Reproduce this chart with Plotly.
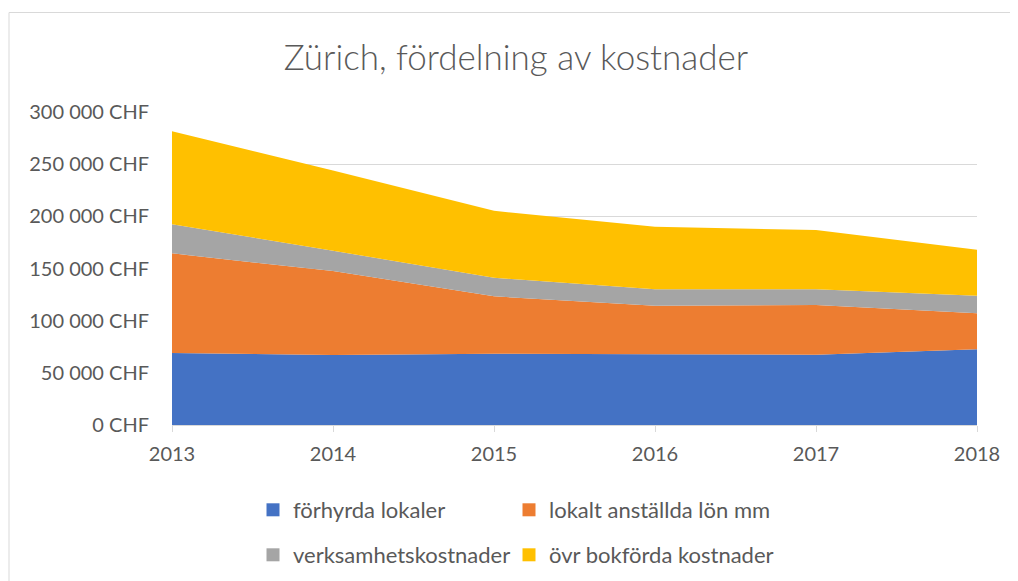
import plotly.graph_objects as go

years = [2013, 2014, 2015, 2016, 2017, 2018]
forhyrda_lokaler = [69000, 67000, 68300, 67700, 67400, 72500]
lokalt_anstallda = [95500, 80500, 55000, 46600, 47600, 34500]
verksamhetskostnader = [28000, 19500, 17800, 15700, 15000, 16900]
ovr_bokforda = [89100, 77000, 64200, 60000, 56800, 44000]

series_names = ["förhyrda lokaler", "lokalt anställda lön mm",
                "verksamhetskostnader", "övr bokförda kostnader"]
series_values = [forhyrda_lokaler, lokalt_anstallda, verksamhetskostnader, ovr_bokforda]
series_colors = ["#4472C4", "#ED7D31", "#A5A5A5", "#FFC000"]
legend_ids = ["legend", "legend2", "legend3", "legend4"]

y_tickvals = [0, 50000, 100000, 150000, 200000, 250000, 300000]
y_ticktext = ["0 CHF", "50 000 CHF", "100 000 CHF", "150 000 CHF",
              "200 000 CHF", "250 000 CHF", "300 000 CHF"]

FONT = "Lato"
GRAY = "#595959"

# page body has an 8px margin; figure is sized/positioned accordingly
W, H = 1010, 573
L, R, T, B = 164, 41, 104, 156
PW, PH = W - L - R, H - T - B

def px_x(xf):
    return (xf - L) / PW

def px_y(yf):
    return (H - B - yf) / PH

fig = go.Figure()
for name, vals, col in zip(series_names, series_values, series_colors):
    fig.add_trace(go.Scatter(
        x=years, y=vals, name=name, stackgroup="one", mode="none",
        fillcolor=col, showlegend=False, hoverinfo="x+y+name",
    ))
# legend entries as square swatches
for name, col, lg in zip(series_names, series_colors, legend_ids):
    fig.add_trace(go.Scatter(
        x=[None], y=[None], mode="markers", name=name, legend=lg,
        marker=dict(symbol="square", size=13, color=col),
    ))

legend_common = dict(
    orientation="h", font=dict(family=FONT, size=22, color=GRAY),
    bgcolor="rgba(0,0,0,0)", itemwidth=30, xanchor="left", yanchor="middle",
    borderwidth=0, xref="container", yref="container",
)
# legend item positions (page px of item start, row centre)
leg_pos = [(253, 510), (509, 510), (253, 555), (509, 555)]

legends = {}
for lg, (lx, ly) in zip(legend_ids, leg_pos):
    legends[lg] = dict(x=(lx - 8) / W, y=1 - (ly - 8) / H, **legend_common)

fig.update_layout(
    width=W, height=H,
    paper_bgcolor="white", plot_bgcolor="white",
    margin=dict(l=L, r=R, t=T, b=B),
    title=dict(text="Zürich, fördelning av kostnader", x=(516 - 8) / W, xanchor="center",
               y=1 - 50 / H, yanchor="middle",
               font=dict(family=FONT, size=35, color=GRAY, weight=300)),
    font=dict(family=FONT, color=GRAY),
    xaxis=dict(
        range=[2013, 2018], tickvals=years, ticktext=[str(y) for y in years],
        showgrid=False, showline=True, linecolor="#D9D9D9", linewidth=1,
        ticks="outside", ticklen=6, tickcolor="#D9D9D9",
        tickfont=dict(family=FONT, size=20, color=GRAY), zeroline=False,
        ticklabelstandoff=5,
    ),
    yaxis=dict(
        range=[0, 300000], tickvals=y_tickvals, ticktext=y_ticktext,
        showgrid=True, gridcolor="#D9D9D9", gridwidth=1, zeroline=False,
        showline=False, ticks="", ticklabelstandoff=22,
        tickfont=dict(family=FONT, size=20, color=GRAY),
    ),
    shapes=[dict(type="rect", xref="paper", yref="paper",
                 x0=px_x(1), x1=px_x(1030),
                 y0=px_y(600), y1=px_y(4.5),
                 line=dict(color="#D9D9D9", width=1), fillcolor="rgba(0,0,0,0)",
                 layer="below")],
    **legends,
)

fig.write_html("out.html")
